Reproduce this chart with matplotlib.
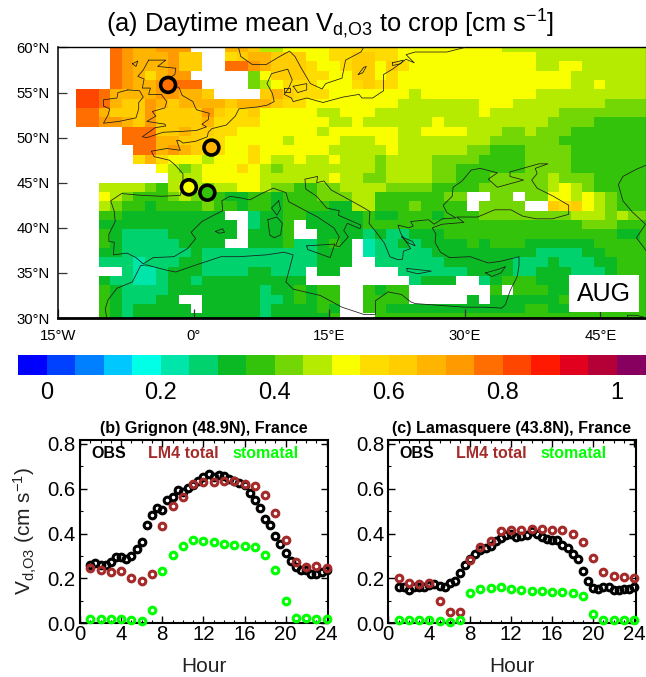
import matplotlib

matplotlib.use("Agg")
import matplotlib.pyplot as plt
import numpy as np
from matplotlib.colors import BoundaryNorm, ListedColormap
from matplotlib.patches import Rectangle
from matplotlib.ticker import MultipleLocator

plt.rcParams["font.family"] = ["Liberation Sans", "DejaVu Sans"]
plt.rcParams["mathtext.fontset"] = "custom"
plt.rcParams["mathtext.rm"] = "Liberation Sans"
plt.rcParams["mathtext.default"] = "rm"

W, H = 646, 677

# colour levels, one per 0.05 of Vd (first and last are out of range)
LEVEL_COLORS = [
    "#0000ff", "#0040ff", "#0080ff", "#00c8ff", "#00ffe6", "#00e6aa",
    "#00d26e", "#0ab923", "#32c30a", "#73d705", "#b4eb00", "#faff00",
    "#ffdc00", "#ffcd00", "#ffb400", "#ff9b00", "#ff6e00", "#ff4600",
    "#ff1900", "#e1001e", "#b40037", "#87005f",
]
COLORBAR_TICKS = [0, 0.2, 0.4, 0.6, 0.8, 1]
COLORBAR_LABELS = ["0", "0.2", "0.4", "0.6", "0.8", "1"]

# map cells, north to south, west to east.
# base-36 level index into LEVEL_COLORS, "." = no data
MAP_ROWS = [
    ".....gfeefff...eedaabbbb" "ccccccbbbbbbbbbaaaaaaaaaaaaa",
    ".....gfeeefdd..cdeedddbb" "ccddccbbbbbbbbbbbbaaaaaaaaaa",
    ".....gfeeefdd..ggfedddcb" "bcddbdcbbbbbbbbbbbaabbaaaaaa",
    ".....gfeceff.....9bdddcc" "bbddbcbbbbbbbbbbbbbbbaaaaaaa",
    ".....gfeefggg....9abcccb" "bbcdccbbbbbbbbbbbbbbbaabaaaa",
    "..hhgeeeeffeed....dedccc" "bbbbbbbabbbbbbbbbbaaaaaaaaaa",
    "..hhgeddfedeeeedeeedccbb" "bbbbbbaaaaaaabbbaaaaaaaa9999",
    "..ggedddfddddfdccdbbbbba" "abbbaaaaaaaaabaaaaaa99999999",
    "..ggffedfddddeccccbbbbbb" "aabaaaaaabaaaaaaaaa999988888",
    "......gggddeddccbbbbbbba" "bbbbbbaabbbbaaa99a9998888888",
    "......gggeeddccbbbbbabbb" "baaabbaaaaaaaa99999988888888",
    ".......ggefedccbbcbbbbbb" "aaaaabaaaaaa9988899998888888",
    ".......cecbbbabbbcbaabaa" "baaa9aaaa9999888899998888888",
    ".........ba9abbbcba9aaaa" "aaaa9aaaa9988888899998888888",
    "..........aaabbbbbaaaaaa" "baa99aaaa9988899999a99988888",
    "....aaaa98aba9aabba99889" "9aaaa99998888999999aba988888",
    "....ba98889a988778878889" "99aa88888899..99.99bbaba9888",
    "....a9887888898878878888" "77aa88898888.9999..dcdba9888",
    "....88777777777..6778877" "777877888788899999999aaa9a99",
    "....777777777777.6778.77" "7778888888888888888888999888",
    "....876666777777.7778..7" "7776766777888888888888888778",
    "....87666667777..7778667" "87.5667677778788877777788888",
    "....77666666766666666667" "77.5666667777777776666778888",
    "....66656667766666666667" "77..666666777777666766677888",
    "......6556777666677666.7" "7.....6666667777667776667888",
    "....766556776777777777.." ".......6777..678887778888888",
    "....87666677777777677878" "8..8788.......8.888778888888",
    "....8766677..77777667878" "8..8888.....7.77777788888888",
    "....87677777.77777677778" "7..8877777777777788778888888",
    "....87677777777777677777" "8...888888888888888888888888",
]

# sites shown as circles on the map (lon, lat, Vd)
SITE_LON = [-2.85, 1.95, -0.55, 1.5]
SITE_LAT = [55.85, 48.9, 44.5, 43.9]
SITE_VD = [0.775, 0.675, 0.525, 0.375]

MAP_LON_TICKS = [-15, 0, 15, 30, 45]
MAP_LON_LABELS = ["15°W", "0°", "15°E", "30°E", "45°E"]
MAP_LAT_TICKS = [30, 35, 40, 45, 50, 55, 60]
MAP_LAT_LABELS = ["30°N", "35°N", "40°N", "45°N", "50°N", "55°N", "60°N"]

# coastlines as (lon, lat) polylines
COASTS = [
    # Great Britain
    [(-5, 58.6), (-3.1, 58.6), (-4, 57.9), (-2, 57.7), (-2.1, 57), (-3.2, 56.3), (-2.5, 56),
     (-1.6, 55.5), (-1.3, 54.7), (-0.1, 54), (0.1, 53.5), (0.3, 53.1), (1.7, 52.7), (1.6, 52),
     (0.9, 51.5), (1.4, 51.2), (0.3, 50.8), (-1.3, 50.7), (-3.4, 50.6), (-5.2, 50), (-5.7, 50.1),
     (-4.3, 51.1), (-3.1, 51.3), (-3.2, 51.5), (-5.2, 51.8), (-4.2, 52.4), (-4.6, 52.9),
     (-3.2, 53.3), (-3, 54), (-3.6, 54.8), (-5, 54.8), (-4.8, 55.5), (-5.7, 55.5), (-5.5, 56.5),
     (-6.2, 56.8), (-5.6, 57.5), (-5, 58.6)],
    # Ireland
    [(-7.3, 55.3), (-6, 55.2), (-5.6, 54.5), (-6.1, 53.9), (-6.1, 53.2), (-6.4, 52.2), (-8.3, 51.8),
     (-10, 51.6), (-9.5, 52.5), (-9.3, 53.2), (-10, 53.5), (-10, 54.2), (-8.5, 54.4), (-8.4, 55),
     (-7.3, 55.3)],
    # Norway and Sweden
    [(4.9, 60.2), (5.2, 59), (6.5, 58.1), (8, 58.1), (9.5, 59), (10.6, 59.6), (11.2, 59), (11.9, 57.7),
     (12.9, 56), (14.2, 55.4), (14.6, 56), (16.4, 56.6), (16.8, 58.6), (18.5, 59.5), (18.9, 60.2)],
    # Baltic, North Sea, Atlantic, Mediterranean, Black Sea, Turkey, Levant, north Africa
    [(30, 60), (28, 59.5), (24.5, 59.5), (23.5, 59.2), (24.4, 58.3), (23.5, 58.7), (22, 57.6), (21, 57),
     (21, 56), (21, 55.2), (19.8, 54.4), (18.6, 54.4), (18.3, 54.8), (16.5, 54.5), (14.3, 53.9),
     (12.5, 54.4), (11, 54), (10.8, 54.4), (10, 54.8), (10.5, 55.5), (10.9, 56.4), (10.4, 57.6),
     (8.6, 57.1), (8.1, 56), (8.7, 54.9), (8.9, 54), (8.1, 53.6), (7, 53.4), (5, 53.2), (4.6, 52.4),
     (3.6, 51.4), (2, 51), (1.6, 50.6), (1.5, 50.1), (0.2, 49.6), (-1.2, 49.4), (-1.6, 49.7),
     (-1.9, 49.7), (-1.5, 48.6), (-3, 48.8), (-4.7, 48.5), (-4.4, 47.9), (-2.7, 47.5), (-2.1, 47),
     (-1.2, 46), (-1.2, 44.7), (-1.5, 43.6), (-3.5, 43.5), (-5.8, 43.6), (-8, 43.8), (-9.2, 43),
     (-8.8, 41.8), (-8.7, 40.7), (-9.4, 39.3), (-9.4, 38.5), (-8.8, 38.4), (-8.9, 37), (-7.4, 37.2),
     (-6.4, 36.7), (-5.6, 36), (-4.5, 36.7), (-2.2, 36.8), (-0.7, 37.7), (0.2, 38.8), (-0.3, 39.5),
     (0.9, 40.7), (2.2, 41.4), (3.2, 41.9), (3.1, 43), (4, 43.5), (5.3, 43.3), (6.2, 43.1), (7.5, 43.8),
     (8.8, 44.4), (10.2, 43.9), (10.5, 42.9), (12.2, 42), (13.7, 41.2), (14.3, 40.8), (15.5, 40),
     (16.1, 39), (15.7, 38), (16.1, 37.9), (17.1, 39), (16.6, 39.7), (17, 40.5), (18.4, 39.9),
     (18.5, 40.3), (16, 41.4), (16.1, 41.9), (14.7, 42.2), (13.6, 43.5), (12.4, 44.3), (12.3, 45.4),
     (13.7, 45.7), (13.6, 45), (14.4, 45.2), (15.2, 44.2), (16.5, 43.5), (18.5, 42.4), (19.5, 41.8),
     (19.4, 40.5), (20.2, 39.5), (21.1, 38.3), (21.7, 36.8), (22.5, 36.5), (23.1, 36.5), (23.2, 37.4),
     (24, 37.7), (22.9, 39.4), (22.6, 40.3), (23.8, 40), (24.3, 40.2), (24, 40.7), (26, 40.9),
     (26.6, 40.4), (27.5, 41), (29, 41.1), (28, 41.7), (27.6, 42.5), (28.6, 43.5), (28.7, 44.5),
     (29.7, 45.2), (30.7, 46.4), (31.7, 46.6), (33.6, 46.1), (32.6, 45.4), (33.6, 44.5), (35.4, 45),
     (36.5, 45.3), (35, 45.7), (35, 46.2), (38.2, 47.1), (39.2, 47.1), (37.8, 46.6), (38, 46),
     (37.4, 45.3), (38, 44.4), (39.8, 43.5), (41.5, 42.5), (41.5, 41.5), (39.7, 41), (37.9, 41),
     (36.4, 41.3), (35.1, 42), (33.3, 42), (31.4, 41.2), (29.1, 41.2), (29.9, 40.6), (27.5, 40.4),
     (26.4, 40), (26.8, 39.3), (26.7, 38.4), (27.3, 37.3), (28.3, 36.7), (30.6, 36.8), (32.6, 36.1),
     (34, 36.3), (36, 36.8), (36, 35.8), (35.8, 34.6), (35, 33), (34.5, 31.5), (34.1, 31.1), (32.2, 31.2),
     (30, 31.2), (24.5, 31.6), (24, 31.8), (23, 32.6), (21.5, 32.9), (20.1, 31.9), (20.1, 30.4),
     (18.8, 30.4), (16.4, 31.2), (14, 32.5), (11, 33.2), (10.2, 34), (10.6, 35.5), (11, 37), (10, 37.3),
     (8, 37), (5, 36.8), (3, 36.8), (0, 35.8), (-2, 35.1), (-3, 35.3), (-5.3, 35.9), (-5.9, 35.8),
     (-6.8, 34), (-8.5, 33.3), (-9.5, 32), (-9.8, 31), (-9.6, 29.8)],
    # Caspian and Gulf
    [(50.2, 47), (49, 46.5), (47.5, 45.7), (47, 44.8), (47.5, 43), (48.5, 41.8), (50, 40.4), (49, 38.9),
     (50.2, 37.3)],
    [(48, 29.8), (48, 30.3), (49, 30.3), (50.2, 30)],
    # Corsica, Sardinia, Sicily, Crete, Cyprus, Mallorca, Euboea
    [(9.4, 43), (9.6, 42.1), (9.2, 41.4), (8.6, 42.2), (9.4, 43)],
    [(8.2, 40.9), (9.2, 41.2), (9.8, 40.5), (9.6, 39.2), (8.9, 38.9), (8.4, 39.2), (8.2, 40.9)],
    [(12.5, 38), (15.6, 38.2), (15.1, 36.7), (12.6, 37.6), (12.5, 38)],
    [(23.6, 35.5), (26.3, 35.2), (24.8, 34.9), (23.6, 35.2), (23.6, 35.5)],
    [(32.3, 35), (33.7, 35.4), (34.5, 35.7), (34, 35), (33, 34.6), (32.3, 35)],
    [(2.4, 39.6), (3.2, 39.9), (3.4, 39.5), (2.8, 39.4), (2.4, 39.6)],
    [(23, 39), (24.2, 38.5), (24.5, 38), (23.6, 38.4), (23, 39)],
    # Zealand, Fyn, Gotland, Saaremaa, Lewis
    [(11, 55.7), (12.5, 56), (12.5, 55.3), (11.5, 55), (11, 55.7)],
    [(10, 55.5), (10.7, 55.5), (10.7, 55.1), (10, 55.1), (10, 55.5)],
    [(18.2, 57), (18.8, 57.8), (19.1, 57.9), (18.7, 57.2), (18.2, 57)],
    [(22, 58.3), (23.2, 58.6), (22.9, 58.2), (22, 58), (22, 58.3)],
    [(-6.8, 58.2), (-6.2, 58.5), (-6.4, 57.9), (-6.8, 58.2)],
]

HOURS = list(range(1, 25))
OBS_HOURS = [h / 2 for h in range(2, 49)]

GRIGNON_OBS = [
    0.262, 0.268, 0.262, 0.262, 0.274, 0.295, 0.295, 0.285, 0.300, 0.330, 0.362, 0.437,
    0.485, 0.514, 0.507, 0.550, 0.563, 0.596, 0.588, 0.603, 0.618, 0.637, 0.652, 0.667,
    0.652, 0.662, 0.655, 0.645, 0.633, 0.625, 0.615, 0.580, 0.548, 0.514, 0.465, 0.437,
    0.388, 0.356, 0.314, 0.277, 0.252, 0.237, 0.240, 0.218, 0.222, 0.230, 0.240,
]
GRIGNON_LM4 = [
    0.247, 0.236, 0.230, 0.232, 0.200, 0.188, 0.220, 0.433, 0.524, 0.565, 0.623, 0.630,
    0.630, 0.637, 0.635, 0.623, 0.613, 0.573, 0.490, 0.370, 0.272, 0.253, 0.255, 0.247,
]
GRIGNON_STOM = [
    0.020, 0.020, 0.020, 0.018, 0.015, 0.012, 0.060, 0.232, 0.306, 0.343, 0.370, 0.367,
    0.362, 0.353, 0.350, 0.347, 0.340, 0.305, 0.236, 0.100, 0.025, 0.023, 0.020, 0.020,
]
LAMASQUERE_OBS = [
    0.161, 0.161, 0.148, 0.160, 0.160, 0.160, 0.172, 0.175, 0.168, 0.160, 0.182, 0.190,
    0.225, 0.260, 0.285, 0.310, 0.325, 0.335, 0.345, 0.365, 0.380, 0.395, 0.400, 0.385,
    0.390, 0.395, 0.410, 0.400, 0.385, 0.375, 0.373, 0.370, 0.350, 0.335, 0.310, 0.285,
    0.235, 0.187, 0.158, 0.155, 0.160, 0.160, 0.148, 0.148, 0.155, 0.155, 0.160,
]
LAMASQUERE_LM4 = [
    0.200, 0.180, 0.177, 0.178, 0.098, 0.050, 0.050, 0.283, 0.340, 0.365, 0.413, 0.415,
    0.417, 0.422, 0.420, 0.418, 0.415, 0.400, 0.363, 0.290, 0.228, 0.212, 0.207, 0.202,
]
LAMASQUERE_STOM = [
    0.015, 0.015, 0.015, 0.015, 0.010, 0.007, 0.014, 0.137, 0.155, 0.158, 0.162, 0.155,
    0.150, 0.145, 0.142, 0.140, 0.140, 0.137, 0.120, 0.042, 0.013, 0.013, 0.013, 0.014,
]


def px_axes(fig, left, top, right, bottom):
    return fig.add_axes([left / W, 1 - bottom / H, (right - left) / W, (bottom - top) / H])


def decode_rows(rows):
    # level index i covers (i-1)*0.05 .. i*0.05, keep the middle of the box
    grid = np.full((len(rows), 52), np.nan)
    for r, row in enumerate(rows):
        for c, ch in enumerate(row):
            if ch != ".":
                grid[r, c] = int(ch, 36) * 0.05 - 0.025
    return grid


def plot_site(ax, title, obs, lm4, stom, ylabel=False):
    ax.plot(OBS_HOURS, obs, "o", mfc="none", mec="black", ms=4.8, mew=2.2, clip_on=False, zorder=3)
    ax.plot(HOURS, lm4, "o", mfc="none", mec="#a52a2a", ms=4.8, mew=2.2, clip_on=False, zorder=4)
    ax.plot(HOURS, stom, "o", mfc="none", mec="#00ff00", ms=4.8, mew=2.2, clip_on=False, zorder=5)
    ax.set_xlim(0, 24.15)
    ax.set_ylim(0, 0.82)
    ax.xaxis.set_major_locator(MultipleLocator(4))
    ax.xaxis.set_minor_locator(MultipleLocator(1))
    ax.yaxis.set_minor_locator(MultipleLocator(0.1))
    ax.tick_params(which="major", direction="in", top=True, right=True, length=5, width=1, labelsize=14.7, pad=1.5)
    ax.tick_params(which="minor", direction="in", top=True, right=True, length=2.5, width=0.8)
    ax.tick_params(axis="y", which="major", pad=3)
    ax.set_yticks([0, 0.2, 0.4, 0.6, 0.8], ["0.0", "0.2", "0.4", "0.6", "0.8"])
    for s in ax.spines.values():
        s.set_linewidth(1.5)
    ax.set_xlabel("Hour", fontsize=15, labelpad=9, color="#222222")
    ax.set_title(title, fontsize=11.6, fontweight="bold", pad=5)
    if ylabel:
        ax.set_ylabel(r"V$_{d{,}O3}$ (cm s$^{-1}$)", fontsize=15, labelpad=6, color="#222222")
    ax.text(0.045, 0.925, "OBS", transform=ax.transAxes, fontsize=11.5, fontweight="bold", va="center")
    ax.text(0.275, 0.925, "LM4 total", transform=ax.transAxes, fontsize=11.5, fontweight="bold",
            color="#a52a2a", va="center")
    ax.text(0.615, 0.925, "stomatal", transform=ax.transAxes, fontsize=11.5, fontweight="bold",
            color="#00ff00", va="center")


fig = plt.figure(figsize=(W / 100, H / 100), dpi=100)

cmap = ListedColormap(LEVEL_COLORS)
bounds = np.arange(len(LEVEL_COLORS) + 1) * 0.05 - 0.05
norm = BoundaryNorm(bounds, cmap.N)

# map panel
ax_map = px_axes(fig, 58.3, 47.5, 645.5, 318)
vd = np.ma.masked_invalid(decode_rows(MAP_ROWS))
lat = np.linspace(60, 30, vd.shape[0])
lon = np.linspace(-15, 50, vd.shape[1])
mesh = ax_map.pcolormesh(lon, lat, vd, cmap=cmap, norm=norm, shading="nearest")
for line in COASTS:
    xs, ys = zip(*line)
    ax_map.plot(xs, ys, color="#1c1c1c", lw=0.55, zorder=3)
ax_map.scatter(SITE_LON, SITE_LAT, c=SITE_VD, cmap=cmap, norm=norm, s=115, edgecolors="black",
               linewidths=2.6, zorder=4)
ax_map.add_patch(Rectangle((569 / W, 1 - 312 / H), 70 / W, 37 / H, transform=fig.transFigure,
                           facecolor="white", edgecolor="none", zorder=5))
ax_map.text(604 / W, 1 - 294 / H, "AUG", transform=fig.transFigure, fontsize=18, ha="center",
            va="center", zorder=6)
ax_map.set_xlim(-15, 50)
ax_map.set_ylim(30, 60)
ax_map.set_xticks(MAP_LON_TICKS, MAP_LON_LABELS)
ax_map.set_yticks(MAP_LAT_TICKS, MAP_LAT_LABELS)
ax_map.tick_params(direction="in", length=6.5, width=0.9, color="#333333", labelsize=10.7, pad=6)
ax_map.tick_params(axis="x", pad=8)
ax_map.spines["top"].set_linewidth(1)
ax_map.spines["right"].set_linewidth(0.8)
ax_map.spines["left"].set_linewidth(1.1)
ax_map.spines["bottom"].set_linewidth(2)
ax_map.set_title(r"(a) Daytime mean V$_{d{,}O3}$ to crop [cm s$^{-1}$]", fontsize=18.4, pad=11, x=0.463)

# colour bar
ax_cbar = px_axes(fig, 18, 355, 645.5, 375)
cbar = fig.colorbar(mesh, cax=ax_cbar, orientation="horizontal", ticks=COLORBAR_TICKS, drawedges=False)
cbar.ax.set_xticklabels(COLORBAR_LABELS)
cbar.ax.minorticks_off()
cbar.ax.tick_params(length=0, labelsize=17, pad=5)
cbar.outline.set_visible(False)

# site panels
ax_b = px_axes(fig, 80, 439.5, 328.3, 623.3)
plot_site(ax_b, "(b) Grignon (48.9N), France", GRIGNON_OBS, GRIGNON_LM4, GRIGNON_STOM, ylabel=True)
ax_c = px_axes(fig, 388.3, 439.5, 635.7, 623.3)
plot_site(ax_c, "(c) Lamasquere (43.8N), France", LAMASQUERE_OBS, LAMASQUERE_LM4, LAMASQUERE_STOM)

fig.savefig("out.png", dpi=100)
plt.close(fig)
